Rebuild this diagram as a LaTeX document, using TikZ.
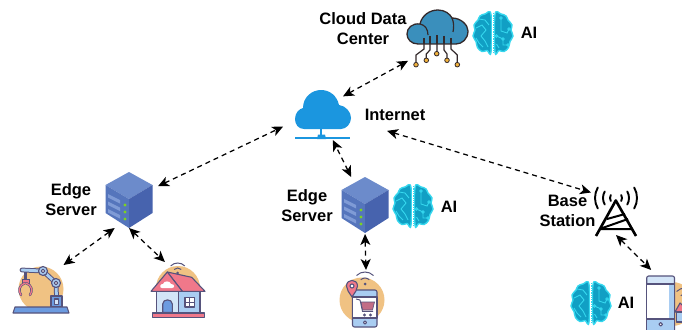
\documentclass[tikz,border=0pt]{standalone}
\usepackage{fontspec}
\setmainfont{Liberation Sans}
\usetikzlibrary{arrows.meta}
\definecolor{inkline}{HTML}{56537C}
\definecolor{orangebg}{HTML}{F0C283}
\definecolor{lightblue}{HTML}{A9CDF2}
\definecolor{paleblue}{HTML}{D3E5F8}
\definecolor{midblue}{HTML}{6C9BE0}
\definecolor{rosered}{HTML}{F0788A}
\definecolor{cloudblue}{HTML}{1B96DF}
\definecolor{dcblue}{HTML}{3A8FBC}
\definecolor{dcline}{HTML}{33292B}
\definecolor{pinyellow}{HTML}{F2B33D}
\definecolor{braincol}{HTML}{119FC4}
\definecolor{brainglow}{HTML}{35D7EE}
\definecolor{HTMLtop}{HTML}{6C8BCB}
\definecolor{HTMLleft}{HTML}{5575BC}
\definecolor{HTMLright}{HTML}{4763AE}
\definecolor{HTMLslot}{HTML}{7F9BD6}
\definecolor{HTMLgreen}{HTML}{7CD321}
\tikzset{
  x=1pt,y=-1pt,
  anchorbox/.style={rectangle,inner sep=0pt,outer sep=0pt},
  label/.style={font=\fontsize{16.5}{19.5}\selectfont\bfseries,align=center,inner sep=0pt,text=black},
  link/.style={dash pattern=on 5pt off 4pt,line width=1.25pt,black,
    {Stealth[length=11pt,width=10pt,inset=3pt]}-{Stealth[length=11pt,width=10pt,inset=3pt]}},
  ink/.style={draw=inkline,line width=1.1pt,line join=round},
  braintrace/.style={draw=brainglow,line width=.9pt,fill=none},
  brainicon/.pic={
    \foreach \s in {1,-1}{
      \begin{scope}[xscale=\s]
        \draw[draw=brainglow,line width=1.4pt,fill=braincol] plot[smooth cycle,tension=.6] coordinates
          {(2,-18.5)(8,-19)(13,-17)(15,-13)(19,-8)(18,-3)(20,3)(17,8.5)(15.5,14.5)(11,18.5)(6,17.5)(2,19)};
      \end{scope}}
    \fill[white] (-1.2,-20) rectangle (1.2,20);
    \draw[brainglow,line width=.9pt,dash pattern=on 1.3pt off 1pt] (0,-20) -- (0,20);
    \draw[braintrace] (-14,-14) -- (-8,-13) -- (-4,-8);
    \draw[braintrace] (-17,-5) -- (-11,-8) -- (-7,-3) -- (-12,3) -- (-8,8) -- (-5,14);
    \draw[braintrace] (-17,5) -- (-14,10) -- (-10,14);
    \draw[braintrace] (8,-15) -- (8,-2) -- (14,0) -- (16,-4);
    \draw[braintrace] (3.5,3) -- (10,6) -- (10,12) -- (15,12);
    \draw[braintrace] (3.5,11) -- (6,15);
    \foreach \p in {(8,-15),(16,-4),(10,6),(15,12),(3.5,3)}{\draw[braintrace] \p circle (1.3pt);}
  },
  servericon/.pic={
    \fill[HTMLtop] (0,-28) -- (23.5,-15) -- (0,-1) -- (-23.5,-15) -- cycle;
    \fill[HTMLleft] (-23.5,-15) -- (0,-1) -- (0,28) -- (-23.5,13) -- cycle;
    \fill[HTMLright] (23.5,-15) -- (0,-1) -- (0,28) -- (23.5,13) -- cycle;
    \foreach \d in {0,7.5,15}{
      \fill[HTMLslot] (-21,{-6+\d}) -- (-9,{0+\d}) -- (-9,{3.5+\d}) -- (-21,{-2.5+\d}) -- cycle;}
    \foreach \d in {5,12,19}{\fill[HTMLgreen] (-4,\d) circle (1.6pt);}
  }
}
\newcommand{\wifiarcs}[3]{% cx cy radii
  \foreach \r in {#3}{
    \draw[inkline,line width=1pt] ({#1-\r*.707},{#2-\r*.707}) .. controls ({#1-\r*.317},{#2-\r*1.097}) and ({#1+\r*.317},{#2-\r*1.097}) .. ({#1+\r*.707},{#2-\r*.707});}
  \fill[inkline] (#1,#2) circle (1.5pt);}
\begin{document}
\begin{tikzpicture}
\path[use as bounding box,clip] (0,0) rectangle (682,329);
\fill[white] (0,0) rectangle (682,329);

% ---------- data centre
\foreach \a/\b/\c/\d/\e/\f in {424/49/416/55/416/64.7,430/50/426.3/54/426.3/60.3,437/48/437/50/436.7/53.7,444/50/447/54/447/60.3,451/49/457.3/55/457.3/64.7}{
  \draw[dcline,line width=1.2pt] (\a,38) -- (\a,\b) -- (\c,\d) -- (\e,\f);
  \filldraw[fill=pinyellow,draw=dcline,line width=.8pt] (\e,\f) circle (2.3pt);}
\filldraw[fill=dcblue,draw=dcline,line width=1.3pt,line join=round]
  (418,44) .. controls (411,44) and (407,39) .. (407,34) .. controls (407,28) and (412,23) .. (420,24)
  .. controls (422,15) and (430,10) .. (438,10) .. controls (445,10) and (450,14) .. (452,18)
  .. controls (461,18) and (468,25) .. (468,31) .. controls (468,39) and (462,44) .. (456,44) -- cycle;
\draw[dcline,line width=1.2pt] (420,24) .. controls (425,25) and (428,29) .. (428,35);
\draw[dcline,line width=1.2pt] (452,18) .. controls (454,23) and (454,27) .. (453,32);
\foreach \a/\t in {424/38,430/36,437/35,444/36,451/38}{\draw[dcline,line width=1.2pt] (\a,\t) -- (\a,44);}
\node[anchorbox,minimum width=66pt,minimum height=66pt,shape=circle] (dc) at (437,45) {};

% ---------- internet cloud
\fill[cloudblue] (304,129) .. controls (298,129) and (295,124) .. (295,119) .. controls (295,113) and (299,109) .. (303,108)
  .. controls (303,97) and (312,90) .. (321,90) .. controls (330,90) and (337,96) .. (339,105)
  .. controls (346,106) and (351,112) .. (351,118) .. controls (351,124) and (346,129) .. (341,129) -- cycle;
\draw[cloudblue,line width=1.6pt] (295,138) -- (350,138);
\draw[cloudblue,line width=1.6pt] (321,129) -- (321,135);
\fill[cloudblue] (317,139) -- (318,134.5) -- (325,134.5) -- (326,139) -- cycle;
\node[anchorbox,minimum width=50pt,minimum height=60pt] (inet) at (318,110) {};

% ---------- servers
\pic at (129,200) {servericon};
\pic at (365,205) {servericon};
\node[anchorbox,minimum width=58pt,minimum height=56pt] (srvA) at (129,200) {};
\node[anchorbox,minimum width=58pt,minimum height=56pt] (srvB) at (365,205) {};

% ---------- brains
\pic at (493,33) {brainicon};
\pic at (413,206) {brainicon};
\pic at (591,303) {brainicon};

% ---------- robot arm
\fill[orangebg] (41,289) circle (22.5pt);
\draw[inkline,line width=4.8pt,line cap=round] (22,270) -- (43,271) -- (56,283) -- (56.5,296);
\draw[lightblue,line width=2.8pt,line cap=round] (22,270) -- (43,271) -- (56,283) -- (56.5,296);
\filldraw[ink,fill=lightblue] (43,271) circle (4.5pt) (56,283) circle (4.5pt);
\filldraw[ink,fill=white] (43,271) circle (1.8pt) (56,283) circle (1.8pt);
\filldraw[ink,fill=midblue] (51,296) rectangle (62,307);
\filldraw[ink,fill=paleblue] (54.5,299) rectangle (58.5,304.5);
\filldraw[ink,fill=midblue] (15,307) -- (67,307) -- (69,313) -- (13,313) -- cycle;
\draw[inkline,line width=2.4pt] (25.5,272) -- (25.5,279);
\filldraw[draw=inkline,line width=.6pt,fill=rosered] (22,279) rectangle (29,283);
\draw[inkline,line width=2.4pt,line cap=round] (25,283) .. controls (19,285) and (18,291) .. (21,295) (26,283) .. controls (32,285) and (33,291) .. (30,295);
\draw[rosered,line width=1.2pt,line cap=round] (25,283) .. controls (19,285) and (18,291) .. (21,295) (26,283) .. controls (32,285) and (33,291) .. (30,295);
\node[anchorbox,minimum width=56pt,minimum height=50pt] (robot) at (41,290) {};

% ---------- home
\fill[orangebg] (178,288) circle (22pt);
\wifiarcs{177.7}{273}{5,10}
\filldraw[ink,fill=paleblue] (156.7,291.3) rectangle (178.3,312.5);
\filldraw[ink,fill=lightblue] (178.3,291.3) rectangle (200,312.5);
\filldraw[ink,fill=midblue] (162.7,312.5) -- (162.7,304) .. controls (162.7,298.5) and (172.3,298.5) .. (172.3,304) -- (172.3,312.5) -- cycle;
\filldraw[ink,fill=white] (185,297.3) rectangle (194.3,307);
\draw[inkline,line width=.8pt] (189.6,297.3) -- (189.6,307) (185,302.1) -- (194.3,302.1);
\filldraw[ink,fill=rosered] (167.3,272) -- (191.7,277.3) -- (205,291.3) -- (182.3,291.3) -- cycle;
\filldraw[ink,fill=rosered] (167.3,272) -- (182.3,291.3) -- (151,291.3) -- cycle;
\fill[white] (162,288) .. controls (159,288) and (160,283.5) .. (163,284) .. controls (164,280.5) and (170,280.5) .. (171,284) .. controls (175,284) and (175,288) .. (172,288) -- cycle;
\filldraw[ink,fill=rosered] (152.3,313) rectangle (204.3,317.3);
\node[anchorbox,minimum width=56pt,minimum height=56pt] (home) at (178,290) {};

% ---------- shopping phone
\fill[orangebg] (362,300) circle (22.5pt);
\wifiarcs{365}{284}{6,12}
\filldraw[ink,fill=lightblue,rounded corners=2pt] (352.5,290) rectangle (377,327);
\filldraw[ink,fill=white] (352.5,297) rectangle (377,318);
\filldraw[ink,fill=white] (365,322.5) circle (1.6pt);
\filldraw[ink,fill=rosered] (352,297) .. controls (349,292) and (346.5,290) .. (346.5,286) .. controls (346.5,278.5) and (357.5,278.5) .. (357.5,286) .. controls (357.5,290) and (355,292) .. (352,297) -- cycle;
\filldraw[ink,fill=white] (352,286) circle (2pt);
\filldraw[draw=inkline,line width=.6pt,fill=rosered!70!inkline] (361,302) -- (374.5,302) -- (372.5,310) -- (362.5,310) -- cycle;
\draw[inkline,line width=.9pt] (356,299) -- (360,300) -- (362.5,311.5) -- (373,311.5);
\fill[inkline] (364.5,315) circle (1.6pt) (370.5,315) circle (1.6pt);
\node[anchorbox,minimum width=50pt,minimum height=54pt] (shop) at (366,297) {};

% ---------- tower
\foreach \r in {6,13,21}{
  \draw[black,line width=1.9pt,line cap=round] ({616-\r*.866},{198-\r*.5}) .. controls ({616-\r*1.045},{198-\r*.191}) and ({616-\r*1.045},{198+\r*.191}) .. ({616-\r*.866},{198+\r*.5});
  \draw[black,line width=1.9pt,line cap=round] ({616+\r*.866},{198-\r*.5}) .. controls ({616+\r*1.045},{198-\r*.191}) and ({616+\r*1.045},{198+\r*.191}) .. ({616+\r*.866},{198+\r*.5});}
\draw[black,line width=2.6pt,line join=round] (596,236) -- (615.8,200.5) -- (636,236);
\draw[black,line width=2pt] (600,229) -- (632,229) (601,228.5) -- (628,219) (607,219) -- (625,214);
\node[anchorbox,minimum width=50pt,minimum height=70pt] (tower) at (616,200) {};

% ---------- mobile device
\fill[orangebg] (672,304) circle (22pt);
\wifiarcs{685}{300}{6,12}
\filldraw[ink,fill=rosered] (675,312) -- (680,303) -- (690,312) -- cycle;
\filldraw[ink,fill=lightblue] (676.5,312) rectangle (690,322);
\filldraw[ink,fill=paleblue,rounded corners=2pt] (646.7,276) rectangle (674.5,335);
\fill[white] (647.3,284) rectangle (669,319);
\fill[lightblue] (669,284) rectangle (674,319);
\fill[lightblue] (647.3,319) rectangle (674,334);
\draw[inkline,line width=1.1pt] (646.7,284) -- (674.5,284) (646.7,319) -- (674.5,319);
\filldraw[ink,fill=white] (660.7,324.3) circle (1.8pt);
\node[anchorbox,minimum width=30pt,minimum height=54pt] (mobile) at (661,297) {};

% ---------- labels
\node[label] (lblDC) at (363,28.5) {Cloud Data\\Center};
\node[label] (lblAIa) at (529,33) {AI};
\node[label] (lblNet) at (395,115) {Internet};
\node[label] (lblSrvA) at (71,199.5) {Edge\\Server};
\node[label] (lblSrvB) at (307,205.5) {Edge\\Server};
\node[label] (lblAIb) at (449,207) {AI};
\node[label] (lblBase) at (567.5,211) {Base\\Station};
\node[label] (lblAIc) at (626,303) {AI};

% ---------- connectors
\draw[link] (dc) -- (inet);
\draw[link,shorten >=11pt] (srvA) -- (inet);
\draw[link] (srvB) -- (inet);
\draw[link,shorten <=46pt] (inet) -- (tower);
\draw[link] (srvA.-117) -- (robot.48);
\draw[link] (srvA.south) -- (home.115);
\draw[link,shorten <=1pt] (srvB.south) -- (shop.north);
\draw[link] (tower.south) -- (mobile.110);
\end{tikzpicture}
\end{document}
